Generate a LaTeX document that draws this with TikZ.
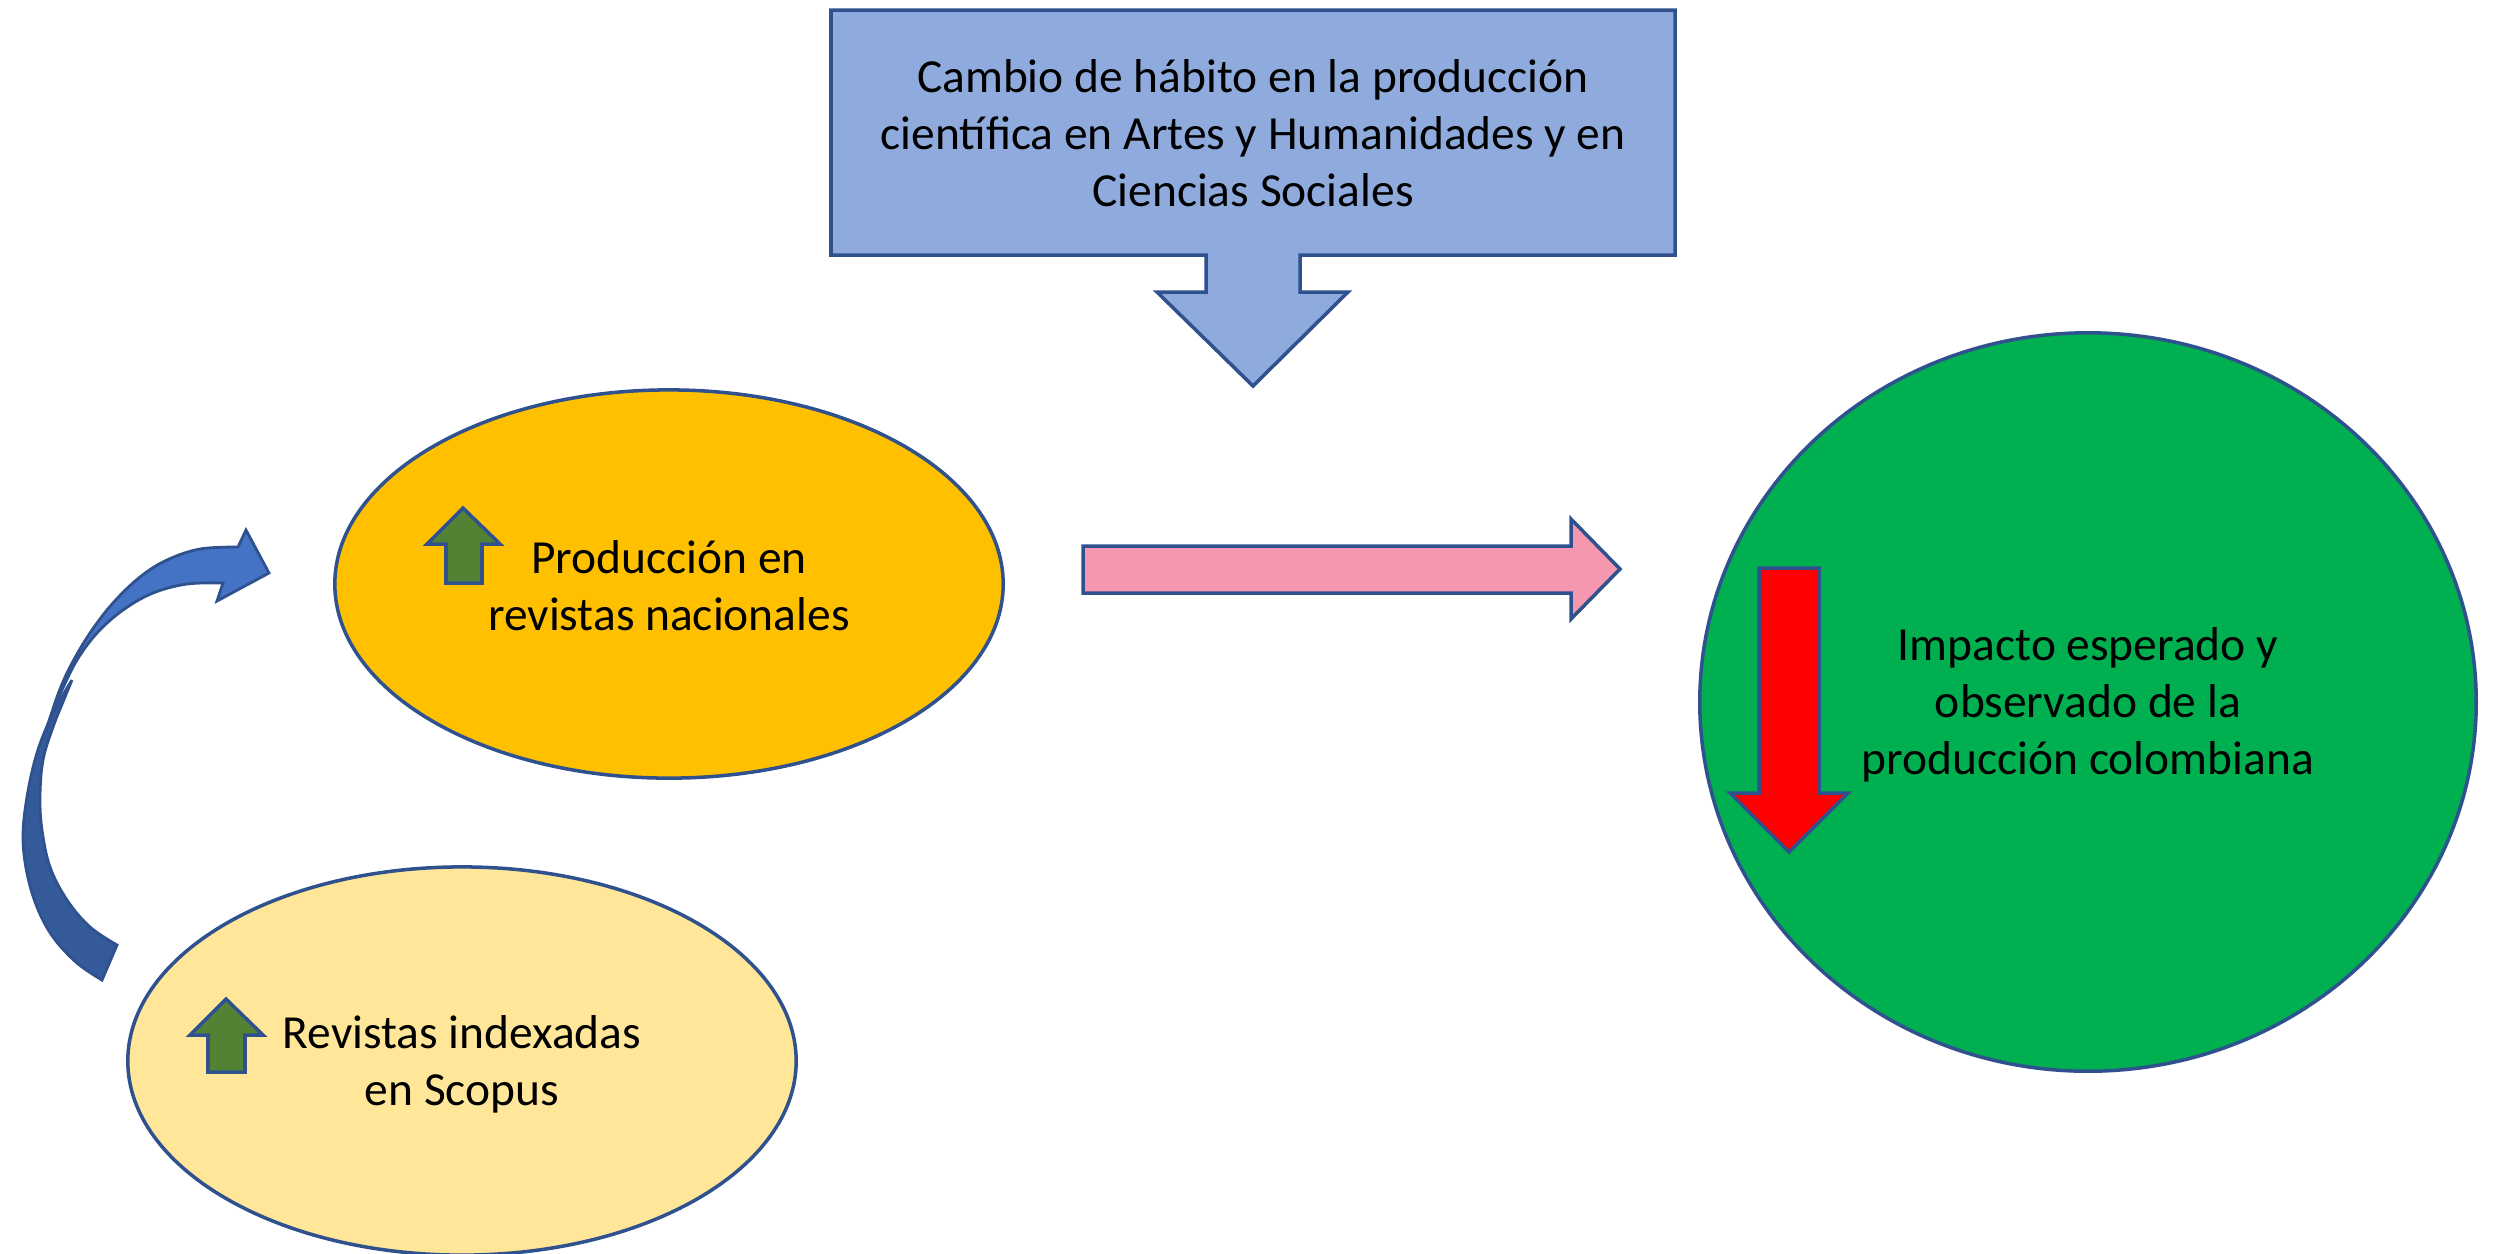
\documentclass[tikz,border=0pt]{standalone}
\usepackage{fontspec}
\setmainfont{Carlito}
\usetikzlibrary{shapes.geometric}
\definecolor{bordc}{HTML}{2F528F}
\definecolor{topc}{HTML}{8FAADC}
\definecolor{orc}{HTML}{FFC000}
\definecolor{lyc}{HTML}{FFE699}
\definecolor{grc}{HTML}{00B050}
\definecolor{pkc}{HTML}{F597AE}
\definecolor{smgc}{HTML}{548235}
\definecolor{cblc}{HTML}{4472C4}
\definecolor{cbdc}{HTML}{345A9A}
\tikzset{
  shp/.style={draw=bordc, line width=1pt, line join=miter},
  cshp/.style={draw=bordc, line width=0.8pt, line join=miter},
  ell/.style={ellipse, shp, inner sep=0pt, align=center, font=\fontsize{13.5}{16.2}\selectfont},
  txt/.style={align=center, font=\fontsize{13.5}{16.2}\selectfont, inner sep=0pt},
}
\begin{document}
\begin{tikzpicture}[x=0.01cm, y=-0.01cm]
\useasboundingbox (0,0) rectangle (2496,1253);
% top box with down arrow
\filldraw[shp, fill=topc] (831,10) -- (1675,10) -- (1675,255) -- (1300,255) -- (1300,292) -- (1348,292) -- (1253,386) -- (1157,292) -- (1206,292) -- (1206,255) -- (831,255) -- cycle;
\node[txt] (top) at (1253,133) {Cambio de hábito en la producción\\científica en Artes y Humanidades y en\\Ciencias Sociales};
% ellipses
\node[ell, fill=lyc, minimum width=6.68cm, minimum height=3.88cm] (scop) at (462,1061) {};
\node[txt] (scopt) at (462,1064) {Revistas indexadas\\en Scopus};
\node[ell, fill=orc, minimum width=6.68cm, minimum height=3.88cm] (prod) at (669,584) {};
\node[txt] (prodt) at (669,586) {Producción en\\revistas nacionales};
\node[ell, fill=grc, minimum width=7.76cm, minimum height=7.38cm] (imp) at (2088,702) {};
\node[txt] (impt) at (2088,705) {Impacto esperado y\\observado de la\\producción colombiana};
% pink arrow
\filldraw[shp, fill=pkc] (1083,546) -- (1571,546) -- (1571,519) -- (1620,569) -- (1571,619) -- (1571,593) -- (1083,593) -- cycle;
% red arrow
\filldraw[shp, fill=red] (1759,568) -- (1819,568) -- (1819,793) -- (1848,793) -- (1789,852) -- (1730,793) -- (1759,793) -- cycle;
% small green up arrows
\filldraw[shp, fill=smgc] (446,583) -- (446,544) -- (427,544) -- (463,508) -- (500,544) -- (482,544) -- (482,583) -- cycle;
\filldraw[shp, fill=smgc] (208,1072) -- (208,1035) -- (190,1035) -- (226,999) -- (263,1035) -- (245,1035) -- (245,1072) -- cycle;
% curved arrow: back (dark) part
\filldraw[cshp, fill=cbdc] plot[smooth, tension=0.6] coordinates {(72,680) (53,713) (37,753) (27,797) (23,837) (27,873) (37,907) (53,937) (77,963) (102,980)}
  -- plot[smooth, tension=0.6] coordinates {(117,945) (90,927) (67,900) (50,867) (42,830) (40,797) (43,760) (53,727) (65,697) (72,680)} -- cycle;
% curved arrow: front (light) part with head
\filldraw[cshp, fill=cblc] plot[smooth, tension=0.6] coordinates {(46,732) (57,697) (70,667) (90,633) (113,603) (140,577) (167,560) (200,549) (238,547)}
  -- (246,530) -- (269,573) -- (217,601) --
  plot[smooth, tension=0.6] coordinates {(223,583) (187,584) (153,593) (123,610) (97,633) (77,660) (62,690) (51,715) (46,732)} -- cycle;
\end{tikzpicture}
\end{document}
